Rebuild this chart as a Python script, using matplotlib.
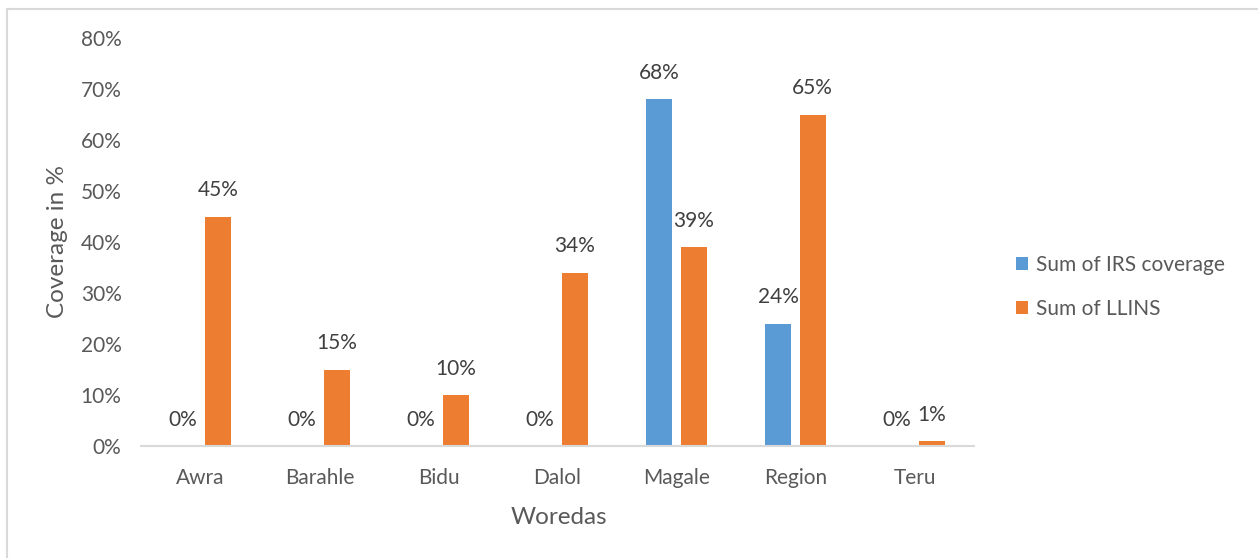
import matplotlib
matplotlib.use("Agg")
import matplotlib.pyplot as plt
from matplotlib.lines import Line2D
import numpy as np

plt.rcParams['font.family'] = ['Lato', 'DejaVu Sans']

woredas = ["Awra", "Barahle", "Bidu", "Dalol", "Magale", "Region", "Teru"]
irs_coverage = [0.00, 0.00, 0.00, 0.00, 0.68, 0.24, 0.00]
llins = [0.45, 0.15, 0.10, 0.34, 0.39, 0.65, 0.01]
y_ticks = [0.0, 0.1, 0.2, 0.3, 0.4, 0.5, 0.6, 0.7, 0.8]

blue = "#5B9BD5"
orange = "#ED7D31"
tick_color = "#595959"
label_color = "#404040"

fig = plt.figure(figsize=(12.58, 5.58), dpi=100)
ax = fig.add_axes([141 / 1258, 1 - 446 / 558, 833 / 1258, 408 / 558])

x = np.arange(len(woredas))
w = 0.22
off = 0.145
b1 = ax.bar(x - off, irs_coverage, w, color=blue, label="Sum of IRS coverage")
b2 = ax.bar(x + off, llins, w, color=orange, label="Sum of LLINS")

for bars, vals in ((b1, irs_coverage), (b2, llins)):
    for rect, v in zip(bars, vals):
        ax.annotate(f"{v * 100:.0f}%", (rect.get_x() + rect.get_width() / 2, v),
                    xytext=(0, 19), textcoords="offset points",
                    ha="center", va="center", fontsize=15, color=label_color)

ax.set_xlim(-0.5, len(woredas) - 0.5)
ax.set_ylim(0, 0.8)
ax.set_yticks(y_ticks)
ax.set_yticklabels([f"{t * 100:.0f}%" for t in y_ticks])
ax.set_xticks(x)
ax.set_xticklabels(woredas)
ax.tick_params(axis="both", length=0, labelsize=15, colors=tick_color)
ax.tick_params(axis="y", pad=14)
ax.tick_params(axis="x", pad=16)

for s in ("top", "right", "left"):
    ax.spines[s].set_visible(False)
ax.spines["bottom"].set_color("#D9D9D9")
ax.spines["bottom"].set_linewidth(1.5)

fig.text(58 / 1258, 1 - 242 / 558, "Coverage in %", rotation=90,
         ha="center", va="center", fontsize=17.5, color=tick_color)
fig.text(559 / 1258, 1 - 517 / 558, "Woredas",
         ha="center", va="center", fontsize=17.5, color=tick_color)

ax.legend(loc="center left", bbox_to_anchor=(997 / 1258, 1 - 287 / 558),
          bbox_transform=fig.transFigure, frameon=False, fontsize=15,
          labelcolor=tick_color, handlelength=0.6, handleheight=0.6,
          handletextpad=0.35, labelspacing=1.15)

# thin frame along the top and left edges
fig.add_artist(Line2D([7 / 1258, 1], [1 - 9 / 558, 1 - 9 / 558],
                      transform=fig.transFigure, color="#D9D9D9", lw=1.5))
fig.add_artist(Line2D([7 / 1258, 7 / 1258], [0, 1 - 9 / 558],
                      transform=fig.transFigure, color="#D9D9D9", lw=1.5))

fig.savefig("out.png", dpi=100, facecolor="white")
